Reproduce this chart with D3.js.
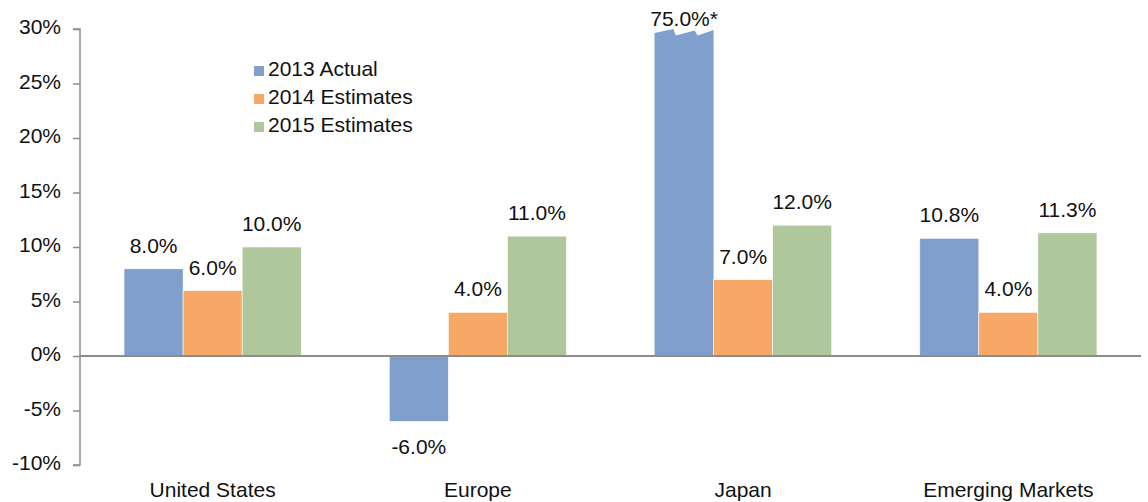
<!DOCTYPE html>
<html>
<head>
<meta charset="utf-8">
<script src="https://cdn.jsdelivr.net/npm/d3@7/dist/d3.min.js"></script>
<style>
  html, body { margin: 0; padding: 0; background: #fff; }
  svg { display: block; font-family: "Liberation Sans", Arial, sans-serif; }
</style>
</head>
<body>
<svg id="chart" width="1148" height="502"></svg>
<script>
// Regions and yearly growth (percent)
const categories = ["United States", "Europe", "Japan", "Emerging Markets"];
const seriesNames = ["2013 Actual", "2014 Estimates", "2015 Estimates"];
const actual2013 = [8.0, -6.0, 75.0, 10.8];
const est2014 = [6.0, 4.0, 7.0, 4.0];
const est2015 = [10.0, 11.0, 12.0, 11.3];
const yTicks = [-10, -5, 0, 5, 10, 15, 20, 25, 30];
const valueLabels = [
  ["8.0%", "-6.0%", "75.0%*", "10.8%"],
  ["6.0%", "4.0%", "7.0%", "4.0%"],
  ["10.0%", "11.0%", "12.0%", "11.3%"]
];

const colors = ["#809fcc", "#f8a866", "#afc79b"];
const seriesValues = [actual2013, est2014, est2015];
const FS = 21;

const svg = d3.select("#chart");
const plotLeft = 80, plotRight = 1141, plotTop = 29, plotBottom = 465;
const yMax = 30;

const y = d3.scaleLinear().domain([-10, yMax]).range([plotBottom, plotTop]).clamp(true);
const x0 = d3.scaleBand().domain(categories).range([plotLeft, plotRight]).paddingInner(0.332).paddingOuter(0.166);
const x1 = d3.scaleBand().domain(seriesNames).range([0, x0.bandwidth()]);

// Flattened records
const rows = [];
categories.forEach((c, ci) => {
  seriesNames.forEach((s, si) => {
    rows.push({ cat: c, series: s, si, value: seriesValues[si][ci], label: valueLabels[si][ci] });
  });
});

// Bars
const g = svg.append("g");
rows.forEach(d => {
  const bx = x0(d.cat) + x1(d.series);
  const bw = x1.bandwidth();
  const y0 = y(0);
  const yv = y(d.value);
  if (d.value > yMax) {
    // Off-scale bar: cut at the top of the axis with a broken edge
    const t = yv;
    const pts = [
      [bx, y0], [bx, t + 4],
      [bx + bw * 0.32, t], [bx + bw * 0.36, t + 6.5],
      [bx + bw * 0.68, t + 1.5], [bx + bw * 0.73, t + 6.5],
      [bx + bw, t + 1], [bx + bw, y0]
    ];
    g.append("path")
      .attr("d", d3.line()(pts) + "Z")
      .attr("fill", colors[d.si]);
  } else {
    g.append("rect")
      .attr("x", bx)
      .attr("y", Math.min(y0, yv))
      .attr("width", bw)
      .attr("height", Math.abs(yv - y0))
      .attr("fill", colors[d.si])
      .attr("stroke", "#fff")
      .attr("stroke-width", 0.6);
  }
});

// Value labels
svg.append("g").selectAll("text").data(rows).join("text")
  .attr("x", d => x0(d.cat) + x1(d.series) + x1.bandwidth() / 2)
  .attr("y", d => d.value > yMax ? y(d.value) - 3
                : d.value >= 0 ? y(d.value) - 16 : y(d.value) + 33)
  .attr("text-anchor", "middle")
  .attr("font-size", FS)
  .attr("fill", "#111")
  .text(d => d.label);

// Y axis
const yAxis = d3.axisLeft(y).tickValues(yTicks).tickSize(7).tickPadding(12)
  .tickFormat(d => d + "%");
const ya = svg.append("g").attr("transform", `translate(${plotLeft},0)`).call(yAxis);
ya.select(".domain").attr("stroke", "#8c8c8c").attr("stroke-width", 1.5)
  .attr("d", `M-7,${plotTop}H0V${plotBottom}H-7`);
ya.selectAll(".tick line").attr("stroke", "#8c8c8c").attr("stroke-width", 1.5);
ya.selectAll(".tick text").attr("font-size", FS).attr("fill", "#111")
  .attr("font-family", "Liberation Sans, Arial, sans-serif").attr("dy", "0.22em");

// Zero baseline
svg.append("line")
  .attr("x1", plotLeft).attr("x2", plotRight)
  .attr("y1", y(0)).attr("y2", y(0))
  .attr("stroke", "#8c8c8c").attr("stroke-width", 2);

// Category labels
svg.append("g").selectAll("text").data(categories).join("text")
  .attr("x", d => x0(d) + x0.bandwidth() / 2)
  .attr("y", 497)
  .attr("text-anchor", "middle")
  .attr("font-size", FS)
  .attr("fill", "#111")
  .text(d => d);

// Legend
const lg = svg.append("g").attr("transform", "translate(254,0)");
seriesNames.forEach((s, i) => {
  const by = 76 + i * 28;
  lg.append("rect").attr("x", 0).attr("y", by - 10).attr("width", 10).attr("height", 10)
    .attr("fill", colors[i]);
  lg.append("text").attr("x", 14).attr("y", by).attr("font-size", FS).attr("fill", "#111").text(s);
});
</script>
</body>
</html>
